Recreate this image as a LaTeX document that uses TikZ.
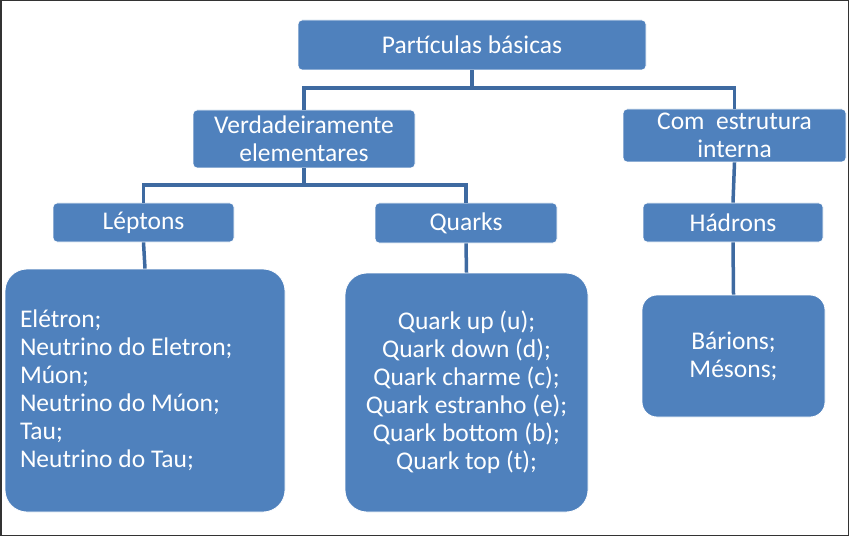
\documentclass[tikz,border=0pt]{standalone}
\usepackage{fontspec}
\setmainfont{Carlito}
\usepackage{tikz}

\definecolor{boxblue}{RGB}{79,129,189}
\definecolor{linkblue}{RGB}{62,106,161}

\begin{document}
\begin{tikzpicture}[x=1pt, y=-1pt,
    box/.style={fill=boxblue, draw=white, line width=0.8pt, text=white, align=center,
        rounded corners=4pt, inner sep=0pt, font=\fontsize{25.5}{28}\selectfont},
    bigbox/.style={box, rounded corners=22pt},
    link/.style={draw=linkblue, line width=3.5pt}]
    \useasboundingbox (0, 0) rectangle (850, 537);
    \draw[line width=1.5pt, color=black!80] (0.75, 0.75) rectangle (848.5, 535.5);

    % levels
    \node[box, minimum width=348, minimum height=50] (part) at (472, 45) {Partículas básicas};
    \node[box, minimum width=222, minimum height=58] (verd) at (304, 139) {Verdadeiramente\\elementares};
    \node[box, minimum width=223, minimum height=53] (com) at (734.5, 135.5) {Com\ \ estrutura\\interna};
    \node[box, minimum width=181, minimum height=39] (lep) at (143.5, 222.5) {Léptons};
    \node[box, minimum width=182, minimum height=40] (qua) at (466, 223) {Quarks};
    \node[box, minimum width=180, minimum height=39] (had) at (733, 222.5) {Hádrons};

    % lists
    \node[bigbox, align=flush left, text width=250, inner xsep=15, minimum height=243] (leplist) at (145, 390.5)
        {Elétron;\\Neutrino do Eletron;\\Múon;\\Neutrino do Múon;\\Tau;\\Neutrino do Tau;};
    \node[bigbox, minimum width=243, minimum height=239] (qualist) at (466.5, 392.5)
        {Quark up (u);\\Quark down (d);\\Quark charme (c);\\Quark estranho (e);\\Quark bottom (b);\\Quark top (t);};
    \node[bigbox, rounded corners=15pt, minimum width=183, minimum height=122] (hadlist) at (733.5, 356)
        {Bárions;\\Mésons;};

    % connectors
    \coordinate (j1) at (472, 88);
    \coordinate (j2) at (304, 185);
    \draw[link] (part.south) -- (j1);
    \draw[link] (verd.north) |- (j1) -| (com.north);
    \draw[link] (verd.south) -- (j2);
    \draw[link] (lep.north) |- (j2) -| (qua.north);
    \draw[link] (com.south) -- (had.north);
    \draw[link] (lep.south) -- (leplist.north);
    \draw[link] (qua.south) -- (qualist.north);
    \draw[link] (had.south) -- (hadlist.north);
\end{tikzpicture}
\end{document}
